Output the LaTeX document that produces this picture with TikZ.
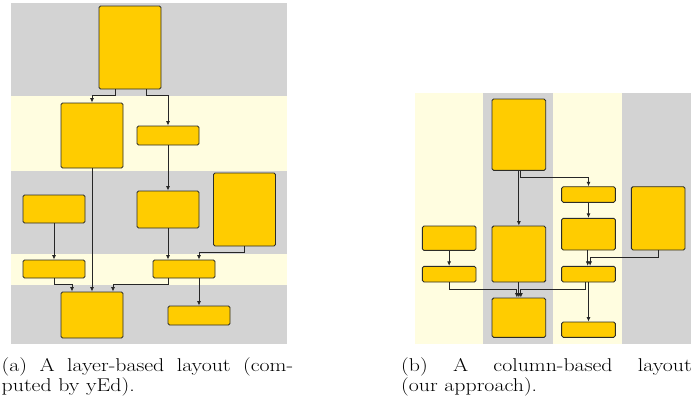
\documentclass[tikz,border=0pt]{standalone}
\usepackage{fontspec}
\setmainfont{Latin Modern Roman}
\usepackage{graphicx}
\usetikzlibrary{arrows.meta}
\definecolor{bandgray}{RGB}{211,211,211}
\definecolor{bandyellow}{RGB}{255,253,224}
\definecolor{boxfill}{RGB}{255,204,0}
\definecolor{boxline}{RGB}{45,45,40}
% caption text: 18.5pt Latin Modern, set slightly wide
\newcommand{\capfont}{\fontsize{18.5pt}{20pt}\selectfont}
\newcommand{\captext}[1]{\scalebox{1.18}[1]{\capfont #1}}
\newcommand{\capline}[2]{\scalebox{1.18}[1]{\capfont\makebox[#1][s]{\capfont #2}}}
\tikzset{
  box/.style={draw=boxline, fill=boxfill, rounded corners=1.6pt, inner sep=0pt,
              line width=0.9pt, minimum width=#1},
  box/.default=62pt,
  edge/.style={draw=black!85, line width=0.8pt, rounded corners=0pt,
               -{Latex[length=4.5pt,width=4pt]}},
  captxt/.style={anchor=base west, inner sep=0pt},
}
\begin{document}
\begin{tikzpicture}[x=1pt,y=-1pt]
\useasboundingbox (0,0) rectangle (698,405);

% ---------- layer-based layout: horizontal layers ----------
\fill[bandgray]   (11,3)   rectangle (287,96);
\fill[bandyellow] (11,96)  rectangle (287,171);
\fill[bandgray]   (11,171) rectangle (287,254);
\fill[bandyellow] (11,254) rectangle (287,285);
\fill[bandgray]   (11,285) rectangle (287,344);

\node[box, minimum height=83pt] (A1)  at (130,47.5)  {};
\node[box, minimum height=65pt] (A2)  at (92,135.5)  {};
\node[box, minimum height=19pt] (A3)  at (168,135.5) {};
\node[box, minimum height=37pt] (A4)  at (168,209.5) {};
\node[box, minimum height=28pt] (A5)  at (54,209)    {};
\node[box, minimum height=73pt] (A6)  at (244.5,209.5) {};
\node[box, minimum height=18pt] (A7)  at (54,269)    {};
\node[box, minimum height=18pt] (A8)  at (184,269)   {};
\node[box, minimum height=46pt] (A9)  at (92,315)    {};
\node[box, minimum height=19pt] (A10) at (199,315.5) {};

\draw[edge] ([xshift=-15pt]A1.south) |- ([yshift=7pt]A2.north) -- (A2.north);
\draw[edge] ([xshift=16pt]A1.south) |- ([yshift=30pt]A3.north) -- (A3.north);
\draw[edge] (A3.south) -- (A4.north);
\draw[edge] (A2.south) -- (A9.north);
\draw[edge] (A5.south) -- (A7.north);
\draw[edge] (A4.south) -- (A4.south |- A8.north);
\draw[edge] (A6.south) |- ([xshift=15pt,yshift=7pt]A8.north) -- ([xshift=15pt]A8.north);
\draw[edge] (A7.south) |- ([xshift=-20pt,yshift=7pt]A9.north) -- ([xshift=-20pt]A9.north);
\draw[edge] ([xshift=-16pt]A8.south) |- ([xshift=21pt,yshift=7pt]A9.north) -- ([xshift=21pt]A9.north);
\draw[edge] ([xshift=15pt]A8.south) -- (A10.north);

% ---------- column-based layout: vertical columns ----------
\fill[bandyellow] (414.7,92.7) rectangle (483,343.5);
\fill[bandgray]   (483,92.7)   rectangle (553,343.5);
\fill[bandyellow] (553,92.7)   rectangle (622,343.5);
\fill[bandgray]   (622,92.7)   rectangle (691,343.5);

\node[box=53.7pt, minimum height=71.3pt] (B1)  at (518.85,134.65) {};
\node[box=53.7pt, minimum height=15.6pt] (B2)  at (588.5,194.5)   {};
\node[box=53.7pt, minimum height=31.7pt] (B3)  at (588.5,234.15)  {};
\node[box=53.7pt, minimum height=63.3pt] (B4)  at (658.15,218.35) {};
\node[box=53.7pt, minimum height=24.3pt] (B5)  at (449.15,238.15) {};
\node[box=53.7pt, minimum height=56pt]   (B6)  at (518.85,254)    {};
\node[box=53.7pt, minimum height=15.7pt] (B7)  at (449.15,274.15) {};
\node[box=53.7pt, minimum height=15.7pt] (B8)  at (588.5,274.15)  {};
\node[box=53.7pt, minimum height=39.3pt] (B9)  at (518.85,317.65) {};
\node[box=53.7pt, minimum height=15.3pt] (B10) at (588.5,329.65)  {};

\draw[edge] (B1.south) -- (B6.north);
\draw[edge] ([xshift=2pt]B1.south) |- ([yshift=8.4pt]B2.north) -- (B2.north);
\draw[edge] (B2.south) -- (B3.north);
\draw[edge] ([xshift=-0.8pt]B3.south) -- ([xshift=-0.8pt]B8.north);
\draw[edge] (B4.south) |- ([xshift=1.6pt,yshift=8pt]B8.north) -- ([xshift=1.6pt]B8.north);
\draw[edge] (B5.south) -- (B7.north);
\draw[edge] (B6.south) -- (B9.north);
\draw[edge] (B7.south) |- ([xshift=-2pt,yshift=7.7pt]B9.north) -- ([xshift=-2pt]B9.north);
\draw[edge] ([xshift=-3.5pt]B8.south) |- ([xshift=2pt,yshift=7.7pt]B9.north) -- ([xshift=2pt]B9.north);
\draw[edge] (B8.south) -- (B10.north);

% ---------- captions (first lines justified to the sub-figure width) ----------
\node[captxt] (capa1) at (1.5,371)   {\capline{247pt}{(a) A layer-based layout (com-}};
\node[captxt] (capa2) at (1.5,391)   {\captext{puted by yEd).}};
\node[captxt] (capb1) at (401,371)   {\capline{246.2pt}{(b) A column-based layout}};
\node[captxt] (capb2) at (401,391)   {\captext{(our approach).}};
\end{tikzpicture}
\end{document}
